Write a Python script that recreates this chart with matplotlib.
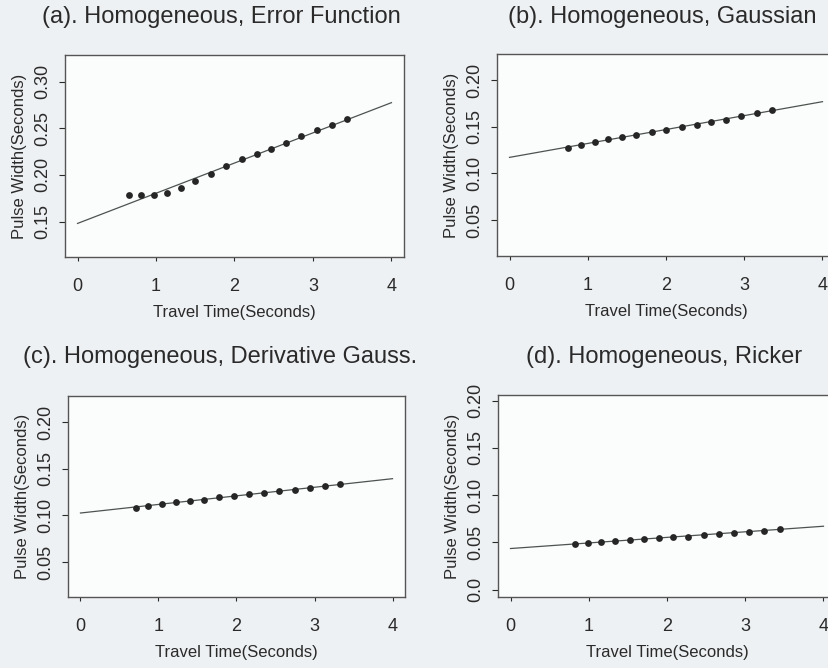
import matplotlib.pyplot as plt

plt.rcParams["font.family"] = ["Liberation Sans", "DejaVu Sans"]

# (a) error-function source pulse
tt_a = [0.65, 0.81, 0.97, 1.14, 1.32, 1.50, 1.70, 1.89, 2.09, 2.29, 2.47, 2.66, 2.85, 3.05, 3.24, 3.44]
pw_a = [0.178, 0.1786, 0.178, 0.181, 0.1864, 0.1936, 0.201, 0.2093, 0.2168, 0.2229, 0.2282, 0.2343,
        0.2418, 0.2486, 0.2539, 0.260]
fit_a = (0.148, 0.2775)

# (b) gaussian source pulse
tt_b = [0.75, 0.91, 1.09, 1.26, 1.44, 1.62, 1.82, 2.00, 2.20, 2.39, 2.57, 2.77, 2.96, 3.16, 3.36]
pw_b = [0.1275, 0.1307, 0.1336, 0.1371, 0.1393, 0.1414, 0.1443, 0.1464, 0.1493, 0.1521, 0.1546,
        0.1575, 0.1614, 0.1643, 0.1679]
fit_b = (0.1171, 0.1768)

# (c) derivative-of-gaussian source pulse
tt_c = [0.71, 0.87, 1.04, 1.22, 1.40, 1.58, 1.78, 1.97, 2.16, 2.35, 2.55, 2.75, 2.94, 3.14, 3.33]
pw_c = [0.1082, 0.110, 0.1121, 0.1139, 0.1154, 0.1168, 0.1193, 0.1211, 0.1225, 0.1243, 0.1264,
        0.1268, 0.1289, 0.1314, 0.1332]
fit_c = (0.1025, 0.1393)

# (d) ricker source pulse
tt_d = [0.82, 0.99, 1.16, 1.34, 1.53, 1.70, 1.90, 2.08, 2.27, 2.47, 2.66, 2.85, 3.05, 3.24, 3.44]
pw_d = [0.0488, 0.0495, 0.0509, 0.0516, 0.0523, 0.0534, 0.0544, 0.0558, 0.0562, 0.0576, 0.0587,
        0.0604, 0.0615, 0.0625, 0.064]
fit_d = (0.0435, 0.0671)

fit_x = [0, 4]

panels = [
    ("(a). Homogeneous, Error Function", tt_a, pw_a, fit_a,
     (65, 55, 404, 257), (0.112, 0.3286), [0.15, 0.20, 0.25, 0.30], ["0.15", "0.20", "0.25", "0.30"],
     (221, 17)),
    ("(b). Homogeneous, Gaussian", tt_b, pw_b, fit_b,
     (497, 54, 835, 256), (0.0114, 0.2279), [0.05, 0.10, 0.15, 0.20], ["0.05", "0.10", "0.15", "0.20"],
     (662, 17)),
    ("(c). Homogeneous, Derivative Gauss.", tt_c, pw_c, fit_c,
     (68, 396, 405, 597), (0.0125, 0.2279), [0.05, 0.10, 0.15, 0.20], ["0.05", "0.10", "0.15", "0.20"],
     (220, 357)),
    ("(d). Homogeneous, Ricker", tt_d, pw_d, fit_d,
     (498, 395, 836, 597), (-0.0078, 0.206), [0.0, 0.05, 0.10, 0.15, 0.20],
     ["0.0", "0.05", "0.10", "0.15", "0.20"],
     (664, 357)),
]

W, H = 829, 668
fig = plt.figure(figsize=(W / 100, H / 100), dpi=100)
fig.patch.set_facecolor("#eef1f3")

for title, tt, pw, fit, box, ylim, yt, ytl, tpos in panels:
    x0, y0, x1, y1 = box
    ax = fig.add_axes([x0 / W, 1 - y1 / H, (x1 - x0) / W, (y1 - y0) / H])
    ax.set_facecolor("#fbfcfc")
    ax.plot(fit_x, fit, color="#4d5450", lw=0.9, zorder=2)
    ax.scatter(tt, pw, s=24, color="#262626", zorder=3, linewidths=0)
    ax.set_xlim(-0.16, 4.16)
    ax.set_ylim(*ylim)
    ax.set_xticks([0, 1, 2, 3, 4])
    ax.set_yticks(yt)
    ax.set_yticklabels(ytl, rotation=90, va="center")
    ax.tick_params(axis="x", length=3, width=0.8, pad=12, labelsize=13, colors="#2a2a2a")
    ax.tick_params(axis="y", length=4, width=0.8, pad=6, labelsize=13, colors="#2a2a2a")
    for sp in ax.spines.values():
        sp.set_color("#555555")
        sp.set_linewidth(1.0)
    ax.set_xlabel("Travel Time(Seconds)", fontsize=12, color="#2a2a2a", labelpad=7)
    ax.set_ylabel("Pulse Width(Seconds)", fontsize=12, color="#2a2a2a", labelpad=5)
    fig.text(tpos[0] / W, 1 - tpos[1] / H, title, ha="center", va="center",
             fontsize=17, color="#2a2a2a")

fig.savefig("out.png", dpi=100, facecolor=fig.get_facecolor())
